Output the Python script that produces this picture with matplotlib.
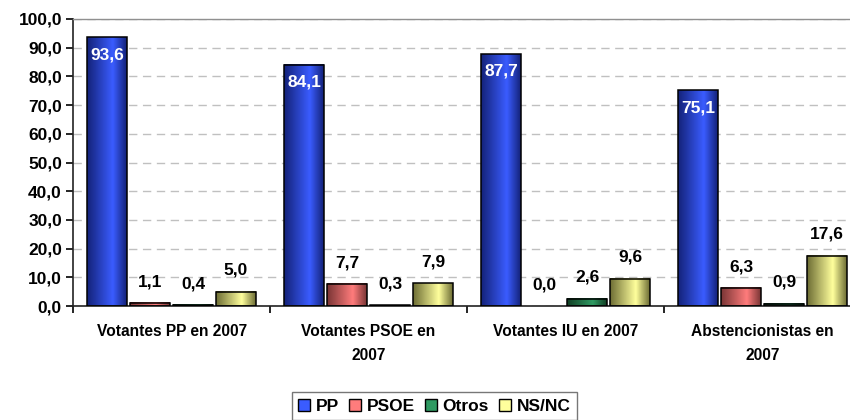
import numpy as np
import matplotlib
matplotlib.use("Agg")
import matplotlib.pyplot as plt
from matplotlib.patches import Patch, Rectangle
from matplotlib.colors import LinearSegmentedColormap

plt.rcParams['font.family'] = ['Liberation Sans', 'DejaVu Sans']

categories = ["Votantes PP en 2007", "Votantes PSOE en\n2007",
              "Votantes IU en 2007", "Abstencionistas en\n2007"]
series = ["PP", "PSOE", "Otros", "NS/NC"]
pp = [93.6, 84.1, 87.7, 75.1]
psoe = [1.1, 7.7, 0.0, 6.3]
otros = [0.4, 0.3, 2.6, 0.9]
nsnc = [5.0, 7.9, 9.6, 17.6]
values = [pp, psoe, otros, nsnc]

# (dark edge, light centre) for the shaded bars
shades = [("#14237a", "#3a5cff"),
          ("#7a3535", "#ff7c7c"),
          ("#123f25", "#2f9a62"),
          ("#6e6e35", "#ffff9c")]

fig = plt.figure(figsize=(8.5, 4.2), dpi=100)
ax = fig.add_axes([0.086, 0.271, 0.927, 0.684])

step = 0.218
width = 0.203
for j, (name, vals) in enumerate(zip(series, values)):
    dark, light = shades[j]
    cmap = LinearSegmentedColormap.from_list(name, [(0, dark), (0.65, light), (1, dark)])
    grad = np.linspace(0, 1, 64).reshape(1, -1)
    for i, v in enumerate(vals):
        x0 = i + 0.5 + (j - 1.5) * step - width / 2
        if v > 0:
            ax.imshow(grad, cmap=cmap, aspect='auto', extent=(x0, x0 + width, 0, v),
                      interpolation='bilinear', zorder=2)
            ax.add_patch(Rectangle((x0, 0), width, v, fill=False, edgecolor='black',
                                   linewidth=1.1, zorder=3))
        label = f"{v:.1f}".replace(".", ",")
        xc = x0 + width / 2
        if j == 0:
            ax.annotate(label, (xc, v), xytext=(0, -7), textcoords='offset points',
                        ha='center', va='top', color='white', fontsize=12.5,
                        fontweight='bold', zorder=4)
        else:
            ax.annotate(label, (xc, v), xytext=(0, 10), textcoords='offset points',
                        ha='center', va='bottom', color='black', fontsize=12.5,
                        fontweight='bold', zorder=4)

ax.set_xlim(0, 4)
ax.set_ylim(0, 100)
ax.set_yticks(np.arange(0, 101, 10))
ax.set_yticklabels([f"{t:.1f}".replace(".", ",") for t in np.arange(0, 101, 10)],
                   fontsize=12.5, fontweight='bold')
ax.yaxis.grid(True, linestyle=(0, (6, 4)), color='#c0c0c0', linewidth=1)
ax.set_axisbelow(True)

ax.set_xticks([0, 1, 2, 3, 4])
ax.set_xticklabels([])
ax.set_xticks([0.5, 1.5, 2.5, 3.5], minor=True)
ax.set_xticklabels(categories, minor=True, fontsize=11.2, fontweight='bold',
                   linespacing=1.75, va='top')
ax.tick_params(axis='x', which='minor', length=0, pad=13)
ax.tick_params(axis='x', which='major', length=5, width=1.2, direction='out')
ax.tick_params(axis='y', length=5, width=1.2, direction='out', pad=3)

for side in ['left', 'bottom']:
    ax.spines[side].set_color('#222222')
    ax.spines[side].set_linewidth(1.2)
for side in ['top', 'right']:
    ax.spines[side].set_color('#909090')
    ax.spines[side].set_linewidth(1)

handles = [Patch(facecolor=shades[k][1], edgecolor='black', linewidth=1) for k in range(4)]
fig.legend(handles, series, loc='center', bbox_to_anchor=(0.511, 0.033), ncol=4,
           frameon=True, fancybox=False, edgecolor='#555555', handlelength=0.7,
           handleheight=0.7, handletextpad=0.3, columnspacing=0.6, borderpad=0.35,
           prop={'weight': 'bold', 'size': 12.5})

fig.savefig("out.png", dpi=100)
